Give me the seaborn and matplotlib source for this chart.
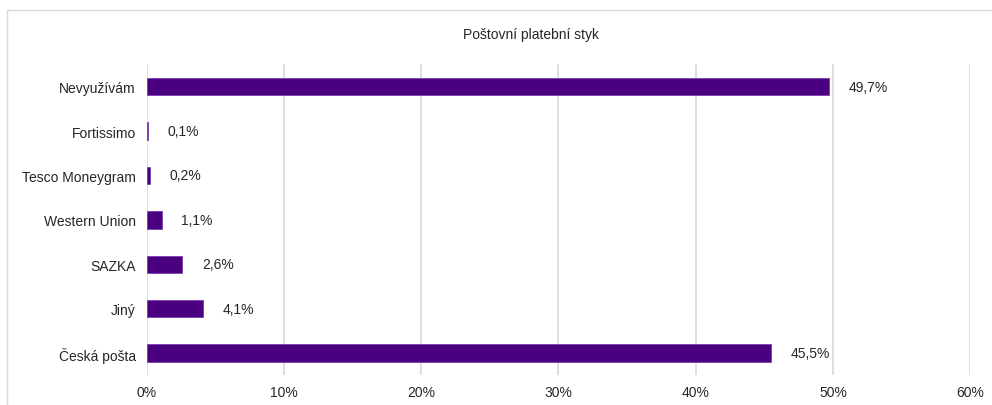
"""Horizontal bar chart: Poštovní platební styk
"""
import pandas as pd
import seaborn as sns
import matplotlib.pyplot as plt
from matplotlib.patches import Rectangle

sns.set_style("white")
plt.rcParams["font.family"] = ["Liberation Sans", "DejaVu Sans"]

categories = ["Nevyužívám", "Fortissimo", "Tesco Moneygram", "Western Union",
              "SAZKA", "Jiný", "Česká pošta"]
values = [49.7, 0.1, 0.2, 1.1, 2.6, 4.1, 45.5]
xticks = [0, 10, 20, 30, 40, 50, 60]

df = pd.DataFrame({"kategorie": categories, "podil": values})

BAR = "#4b0082"
TEXT = "#262626"

fig = plt.figure(figsize=(9.92, 4.06), dpi=100)
ax = fig.add_axes([0.148, 0.073, 0.83, 0.766])

sns.barplot(data=df, x="podil", y="kategorie", order=categories,
            color=BAR, width=0.39, edgecolor="#7a3fb0", linewidth=0.6,
            saturation=1, ax=ax)

ax.bar_label(ax.containers[0],
             labels=[f"{v:.1f}%".replace(".", ",") for v in values],
             padding=14, fontsize=10, color=TEXT)

ax.set_xlim(0, 60)
ax.set_ylim(6.5, -0.5)
ax.set_xticks(xticks)
ax.set_xticklabels([f"{t}%" for t in xticks])
ax.set_xlabel("")
ax.set_ylabel("")
ax.tick_params(axis="both", length=0, labelsize=10, labelcolor=TEXT)
ax.tick_params(axis="y", pad=8)
ax.tick_params(axis="x", pad=7)
ax.grid(axis="x", color="#d9d9d9", linewidth=1.2)
ax.set_axisbelow(True)
for s in ax.spines.values():
    s.set_visible(False)

fig.text(0.535, 1 - 35 / 406, "Poštovní platební styk", ha="center",
         va="center", fontsize=10, color=TEXT)

fig.add_artist(Rectangle((7 / 992, -0.1), 1.2, 1.1 - 11 / 406,
                         transform=fig.transFigure, fill=False,
                         edgecolor="#d9d9d9", linewidth=1))

plt.savefig("out.png", dpi=100)
plt.close()
